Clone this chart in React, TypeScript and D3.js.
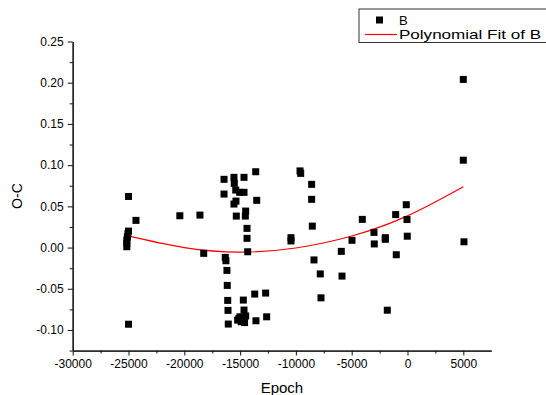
import React, { useEffect, useRef } from 'react';
import * as d3 from 'd3';

// O-C points, as [epoch, O-C]
const epochs = [
  -25000, -24330, -25000, -25050, -25100, -25150, -25150, -25150, -25000,
  -20400, -18600, -18260,
  -16440, -16440, -15550, -15520, -15390, -14650, -14650, -15040, -13600, -13510,
  -15370, -15550, -14500, -15340, -14530, -14380, -14380, -14320,
  -16330, -16270, -16180, -16150, -16110, -16085, -16060,
  -14710, -14650, -13690, -12710, -15010, -14620, -15220, -13580, -12620,
  -15100, -14900, -14600, -14500,
  -10440, -10440, -9630, -9570, -8590, -8590, -8530, -8380, -7815, -7752,
  -5933, -5870, -4975, -4050, -3004, -2976, -1990, -1990, -1810, -1060, -1005,
  -110, -46, -20, 5000, 5000, 5060,
];
const ocValues = [
  0.062, 0.033, 0.020, 0.017, 0.013, 0.009, 0.005, 0.001, -0.093,
  0.0386, 0.0394, -0.007,
  0.0828, 0.0649, 0.0852, 0.0779, 0.0698, 0.0852, 0.067, 0.067, 0.092, 0.0573,
  0.0564, 0.0528, 0.0443, 0.0382, 0.0382, 0.0233, 0.0112, -0.0051,
  -0.0119, -0.016, -0.0277, -0.0459, -0.0641, -0.0762, -0.0928,
  -0.0637, -0.0758, -0.0564, -0.0552, -0.084, -0.088, -0.088, -0.0888, -0.084,
  -0.086, -0.090, -0.091, -0.083,
  0.012, 0.008, 0.093, 0.090, 0.0767, 0.0585, 0.026, -0.015, -0.032, -0.061,
  -0.0046, -0.0346, 0.0088, 0.0342, 0.0184, 0.0044, 0.012, 0.010, -0.076, 0.040, -0.0087,
  0.052, 0.034, 0.0138, 0.204, 0.106, 0.007,
];

// points read along the red polynomial fit
const fitEpochs = [-25150, -20000, -15000, -10000, -5000, 0, 5000];
const fitValues = [0.0145, 0.0, -0.0055, -0.0005, 0.014, 0.0385, 0.0738];

const xTicks = [-30000, -25000, -20000, -15000, -10000, -5000, 0, 5000];
const yTicks = [-0.1, -0.05, 0.0, 0.05, 0.1, 0.15, 0.2, 0.25];

const W = 546;
const H = 395;
const FONT = 'Liberation Sans, Arial, sans-serif';

// plain hyphen instead of d3's unicode minus
const fmtX = (d: d3.NumberValue) => String(d);
const fmtY = (d: d3.NumberValue) => d3.format('.2f')(+d).replace('\u2212', '-');

const App = () => {
  const svgRef = useRef<SVGSVGElement>(null);

  useEffect(() => {
    const svg = d3.select(svgRef.current);
    svg.selectAll('*').remove();

    const x = d3.scaleLinear().domain([-30000, 7500]).range([72.7, 491.2]);
    const y = d3.scaleLinear().domain([-0.125, 0.25]).range([350.6, 41.5]);

    // minor ticks
    const xMinor = d3.range(-27500, 7500, 5000);
    const yMinor = d3.range(-0.125, 0.25, 0.05);

    svg.append('g').attr('transform', `translate(0,${y(-0.125)})`)
      .call(d3.axisBottom(x).tickValues(xMinor).tickSize(3).tickFormat(() => '').tickSizeOuter(0));
    svg.append('g').attr('transform', `translate(0,${y(-0.125)})`)
      .call(d3.axisBottom(x).tickValues(xTicks).tickSize(5).tickPadding(4).tickSizeOuter(0).tickFormat(fmtX));

    svg.append('g').attr('transform', `translate(${x(-30000)},0)`)
      .call(d3.axisLeft(y).tickValues(yMinor).tickSize(3).tickFormat(() => '').tickSizeOuter(0));
    svg.append('g').attr('transform', `translate(${x(-30000)},0)`)
      .call(d3.axisLeft(y).tickValues(yTicks).tickSize(5).tickPadding(4).tickSizeOuter(0).tickFormat(fmtY));

    svg.selectAll('.domain').attr('stroke', '#222').attr('stroke-width', 1.3);
    svg.selectAll('.tick line').attr('stroke', '#222').attr('stroke-width', 1.1);
    svg.selectAll('.tick text').attr('fill', '#000').style('font-family', FONT).style('font-size', '12px');

    // fit line
    const line = d3.line<number>()
      .x((_, i) => x(fitEpochs[i]))
      .y(d => y(d))
      .curve(d3.curveNatural);
    svg.append('path').datum(fitValues)
      .attr('fill', 'none').attr('stroke', '#ff0000').attr('stroke-width', 1.2)
      .attr('d', line);

    // squares
    const s = 7;
    svg.append('g').selectAll('rect').data(ocValues).join('rect')
      .attr('x', (_, i) => x(epochs[i]) - s / 2)
      .attr('y', d => y(d) - s / 2)
      .attr('width', s).attr('height', s)
      .attr('fill', '#000');

    // axis titles
    svg.append('text')
      .attr('x', (x(-30000) + x(7500)) / 2).attr('y', 393)
      .attr('text-anchor', 'middle')
      .style('font-family', FONT).style('font-size', '15px')
      .text('Epoch');
    svg.append('text')
      .attr('transform', `translate(22,${(y(0.25) + y(-0.125)) / 2}) rotate(-90)`)
      .attr('text-anchor', 'middle')
      .style('font-family', FONT).style('font-size', '14px')
      .text('O-C');

    // legend
    const lg = svg.append('g').attr('transform', 'translate(359,9)');
    lg.append('rect').attr('x', 0).attr('y', 0).attr('width', 200).attr('height', 33.5)
      .attr('fill', '#fff').attr('stroke', '#333').attr('stroke-width', 1);
    lg.append('rect').attr('x', 17).attr('y', 7.5).attr('width', 7).attr('height', 7).attr('fill', '#000');
    lg.append('text').attr('x', 40).attr('y', 15.5).style('font-family', FONT).style('font-size', '13px').text('B');
    lg.append('line').attr('x1', 6).attr('x2', 38).attr('y1', 25.5).attr('y2', 25.5)
      .attr('stroke', '#ff0000').attr('stroke-width', 1.2);
    lg.append('text').attr('x', 40).attr('y', 30.3)
      .attr('textLength', 142).attr('lengthAdjust', 'spacingAndGlyphs')
      .style('font-family', FONT).style('font-size', '13px').text('Polynomial Fit of B');
  }, []);

  return (
    <svg ref={svgRef} width={W} height={H}
      style={{ position: 'absolute', left: 0, top: 0, background: '#fff' }} />
  );
};

export default App;
